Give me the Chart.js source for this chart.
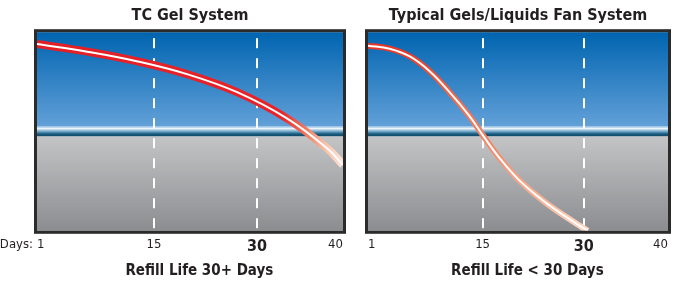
<!DOCTYPE html>
<html>
<head>
<meta charset="utf-8">
<script src="https://cdn.jsdelivr.net/npm/chart.js@4"></script>
<style>
  body { margin: 0; background: #fff; }
  #wrap-left { position: absolute; left: 0; top: 0; width: 355px; height: 283px; }
  #wrap-right { position: absolute; left: 355px; top: 0; width: 319px; height: 283px; }
</style>
</head>
<body>
<div id="wrap-left"><canvas id="gel-chart"></canvas></div>
<div id="wrap-right"><canvas id="fan-chart"></canvas></div>
<script>
// days axis (picture is stylised: "1" sits at left edge, "40" at right edge)
const xMin = -2;
const xMax = 42.5;
const dayLabels = ["1", "15", "30", "40"];
const markedDays = [15, 30];
const horizonLevel = 50;

// TC Gel System curve
const gelDays = [-2, 5.3, 12.5, 19.8, 27.1, 34.4, 40.2, 42.5];
const gelLevel = [94.1, 90.2, 85.4, 78.9, 69.8, 56.5, 41.5, 33.2];

// Typical gels / liquids fan system curve
const fanDays = [-2, 1.2, 4.2, 7.1, 10, 13, 15.2, 17.4, 20.3, 24, 27.7, 30.6];
const fanLevel = [93.2, 91.7, 87.8, 80.5, 70.2, 58, 47.3, 37.1, 25.9, 15.1, 6.3, 0];

const FONT = "'Liberation Sans Narrow', 'DejaVu Sans Condensed', 'Roboto', sans-serif";
const INK = "#231f20";

function toPoints(xs, ys) {
    return xs.map((x, i) => ({ x: x, y: ys[i] }));
}

// sky / horizon / ground behind the plot, plus the dark frame
const scenePlugin = {
    id: "scene",
    beforeDraw(chart) {
        const c = chart.ctx;
        const a = chart.chartArea;
        const hy = chart.scales.y.getPixelForValue(horizonLevel);
        c.save();
        let g = c.createLinearGradient(0, a.top, 0, hy - 5);
        g.addColorStop(0, "#0064b0");
        g.addColorStop(1, "#62a0d8");
        c.fillStyle = g;
        c.fillRect(a.left, a.top, a.width, hy - 5 - a.top);
        // horizon band
        g = c.createLinearGradient(0, hy - 5, 0, hy + 5);
        g.addColorStop(0, "#8fbde0");
        g.addColorStop(0.2, "#eef5fa");
        g.addColorStop(0.35, "#a9cde3");
        g.addColorStop(0.55, "#5b95b8");
        g.addColorStop(0.75, "#175a7c");
        g.addColorStop(1, "#0f4664");
        c.fillStyle = g;
        c.fillRect(a.left, hy - 5, a.width, 10);
        g = c.createLinearGradient(0, hy + 5, 0, a.bottom);
        g.addColorStop(0, "#c3c4c6");
        g.addColorStop(1, "#8c8d90");
        c.fillStyle = g;
        c.fillRect(a.left, hy + 5, a.width, a.bottom - hy - 5);
        c.restore();
    },
    afterDraw(chart, args, opts) {
        const c = chart.ctx;
        const a = chart.chartArea;
        c.save();
        c.strokeStyle = "#2b2b2b";
        c.lineWidth = 3;
        c.strokeRect(a.left - 1.5, a.top - 1.5, a.width + 3, a.height + 3);
        if (opts.prefix) {
            c.font = "13px " + FONT;
            c.fillStyle = INK;
            c.textAlign = "right";
            c.textBaseline = "middle";
            c.fillText(opts.prefix, a.left - 4, a.bottom + 14);
        }
        c.restore();
    }
};

function lineColor(stops, vertical) {
    return function (ctx) {
        const a = ctx.chart.chartArea;
        if (!a) return stops[0][1];
        const g = vertical
            ? ctx.chart.ctx.createLinearGradient(0, a.top, 0, a.bottom)
            : ctx.chart.ctx.createLinearGradient(a.left, 0, a.right, 0);
        stops.forEach(s => g.addColorStop(s[0], s[1]));
        return g;
    };
}

function makeChart(id, title, axisTitle, days, level, stops, vertical, width, pad, prefix) {
    const pts = toPoints(days, level);
    return new Chart(id, {
        type: "line",
        data: {
            datasets: [
                {
                    // white highlight, on top
                    data: pts,
                    order: 0,
                    borderColor: "#ffffff",
                    borderWidth: 2,
                    pointRadius: 0,
                    tension: 0.4,
                    clip: 0
                },
                {
                    data: pts,
                    order: 1,
                    borderColor: lineColor(stops, vertical),
                    borderWidth: width,
                    pointRadius: 0,
                    tension: 0.4,
                    clip: 0
                }
            ]
        },
        options: {
            responsive: false,
            animation: false,
            layout: { padding: pad },
            plugins: {
                legend: { display: false },
                tooltip: { enabled: false },
                title: {
                    display: true,
                    text: title,
                    fullSize: false,
                    color: INK,
                    font: { family: FONT, size: 16, weight: "bold" },
                    padding: { top: 6, bottom: 7 }
                },
                scene: { prefix: prefix }
            },
            scales: {
                x: {
                    type: "linear",
                    min: xMin,
                    max: xMax,
                    afterBuildTicks(scale) {
                        scale.ticks = [xMin].concat(markedDays, [xMax]).map(v => ({ value: v }));
                    },
                    ticks: {
                        align: "inner",
                        padding: 6,
                        color: INK,
                        autoSkip: false,
                        maxRotation: 0,
                        callback: (v, i) => dayLabels[i],
                        font: ctx => ctx.tick && ctx.tick.value === 30
                            ? { family: FONT, size: 16, weight: "bold" }
                            : { family: FONT, size: 13 }
                    },
                    grid: {
                        drawTicks: false,
                        lineWidth: 2,
                        color: ctx => markedDays.includes(ctx.tick && ctx.tick.value) ? "#ffffff" : "rgba(0,0,0,0)"
                    },
                    border: { display: false, dash: [10, 10], dashOffset: 14 },
                    title: {
                        display: true,
                        text: "\u00a0\u00a0\u00a0\u00a0" + axisTitle,
                        color: INK,
                        font: { family: FONT, size: 15, weight: "bold" },
                        padding: { top: 0, bottom: 2 }
                    }
                },
                y: { display: false, min: 0, max: 100 }
            }
        },
        plugins: [scenePlugin]
    });
}

document.getElementById("gel-chart").width = 355;
document.getElementById("gel-chart").height = 283;
document.getElementById("fan-chart").width = 319;
document.getElementById("fan-chart").height = 283;

makeChart("gel-chart", "TC Gel System", "Refill Life 30+ Days", gelDays, gelLevel,
    [[0, "#e31e25"], [0.8, "#e8242a"], [0.88, "#f07c60"], [0.94, "#f8bfa6"], [1, "#fde6da"]],
    false, 8, { left: 37, right: 12, top: 0, bottom: 1 }, "Days:");

makeChart("fan-chart", "Typical Gels/Liquids Fan System", "Refill Life < 30 Days", fanDays, fanLevel,
    [[0, "#e52826"], [0.15, "#e9442f"], [0.35, "#ef6b4e"], [0.6, "#f28c6e"], [0.85, "#f7b497"], [1, "#fcdac8"]],
    true, 6, { left: 13, right: 3, top: 0, bottom: 1 }, null);
</script>
</body>
</html>
